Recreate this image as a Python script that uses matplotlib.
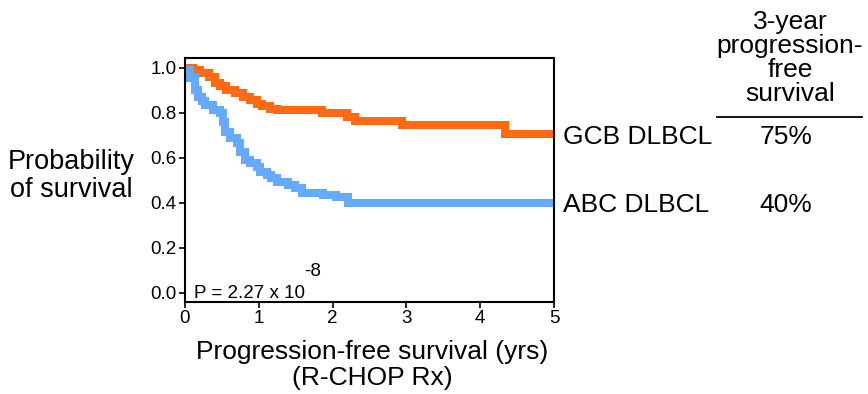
import matplotlib.pyplot as plt

# Kaplan-Meier style step data
gcb_t = [0, 0.11, 0.20, 0.32, 0.41, 0.47, 0.56, 0.68, 0.79, 0.88, 0.97, 1.04, 1.15, 1.24,
         1.85, 2.19, 2.30, 2.94, 4.34, 5.0]
gcb_s = [1.0, 0.99, 0.975, 0.957, 0.93, 0.92, 0.90, 0.886, 0.87, 0.857, 0.84, 0.83, 0.815, 0.812,
         0.798, 0.783, 0.765, 0.746, 0.704, 0.704]

abc_t = [0, 0.07, 0.14, 0.18, 0.23, 0.27, 0.38, 0.47, 0.52, 0.54, 0.61, 0.70, 0.75, 0.81, 0.88,
         0.97, 1.02, 1.11, 1.17, 1.24, 1.40, 1.49, 1.58, 1.87, 2.05, 2.21, 5.0]
abc_s = [0.99, 0.953, 0.90, 0.87, 0.85, 0.834, 0.812, 0.798, 0.76, 0.716, 0.687, 0.664, 0.627, 0.59,
         0.576, 0.561, 0.538, 0.524, 0.509, 0.494, 0.48, 0.465, 0.445, 0.435, 0.425, 0.40, 0.40]

groups = ['GCB DLBCL', 'ABC DLBCL']
pfs_3yr = ['75%', '40%']
colors = ['#ff6a12', '#66aaff']

plt.rcParams['font.family'] = ['Liberation Sans', 'DejaVu Sans']

W, H = 868, 394
fig = plt.figure(figsize=(W / 100, H / 100), dpi=100)
ax = fig.add_axes([185 / W, 1 - 302 / H, 369 / W, 244 / H])


def fx(px):
    return px / W


def fy(py):
    return 1 - py / H


for t, s, c in zip([gcb_t, abc_t], [gcb_s, abc_s], colors):
    ax.step(t, s, where='post', color=c, lw=5.8, solid_joinstyle='miter', solid_capstyle='butt')

ax.set_xlim(0, 5)
ax.set_ylim(-0.04, 1.043)
ax.set_xticks(range(6))
ax.set_yticks([0, 0.2, 0.4, 0.6, 0.8, 1.0])
ax.set_yticklabels(['0.0', '0.2', '0.4', '0.6', '0.8', '1.0'])
ax.tick_params(labelsize=13.5, length=4, width=1.2, direction='out', pad=2)
for sp in ax.spines.values():
    sp.set_linewidth(1.5)

# p-value with a big raised exponent, as in the original
fig.text(fx(194), fy(294), 'P = 2.27 x 10', ha='left', va='center', fontsize=13.5)
fig.text(fx(304), fy(271), '-8', ha='left', va='center', fontsize=13.5)

fig.text(fx(71), fy(176), 'Probability\nof survival', ha='center', va='center',
         fontsize=19.5, linespacing=1.1)
fig.text(fx(372), fy(365), 'Progression-free survival (yrs)\n(R-CHOP Rx)', ha='center',
         va='center', fontsize=19, linespacing=1.1)

for name, val, py in zip(groups, pfs_3yr, [137, 205]):
    fig.text(fx(563), fy(py), name, ha='left', va='center', fontsize=19)
    fig.text(fx(786), fy(py), val, ha='center', va='center', fontsize=19)

fig.text(fx(790), fy(58), '3-year\nprogression-\nfree\nsurvival', ha='center', va='center',
         fontsize=19, linespacing=1.0)
fig.add_artist(plt.Line2D([fx(717), fx(862)], [fy(117), fy(117)], color='black', lw=1.3))

fig.savefig('out.png', dpi=100)
